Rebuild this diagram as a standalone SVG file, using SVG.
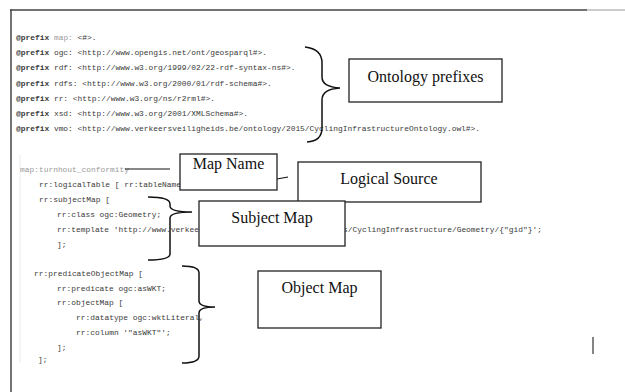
<svg xmlns="http://www.w3.org/2000/svg" width="625" height="392" viewBox="0 0 625 392">
<style>
.code{font-family:"Liberation Mono","DejaVu Sans Mono",monospace;font-size:7.9px;fill:#3a3a3a}
.kw{font-weight:bold}
.gray{fill:#9a9a9a}
.box{fill:#ffffff;stroke:#222;stroke-width:1.3}
.lbl{font-family:"Liberation Serif","Times New Roman",serif;font-size:16px;fill:#111;text-anchor:middle}
.brace{fill:none;stroke:#111;stroke-width:1.5}
.conn{fill:none;stroke:#111;stroke-width:1.2}
</style>
<rect x="0" y="0" width="625" height="392" fill="#ffffff"/>
<g id="frame">
<line x1="10" y1="10" x2="587" y2="10" stroke="#444" stroke-width="1.5"/>
<line x1="587" y1="10" x2="625" y2="10" stroke="#999" stroke-width="1.2"/>
<line x1="11" y1="9.5" x2="11" y2="392" stroke="#444" stroke-width="1.5"/>
<line x1="20" y1="155" x2="20" y2="363" stroke="#ececec" stroke-width="1"/>
</g>
<g id="code">
<text class="code" x="16" y="40"><tspan class="kw">@prefix</tspan> <tspan class="gray">map:</tspan> &lt;#&gt;.</text>
<text class="code" x="16" y="55.2"><tspan class="kw">@prefix</tspan> ogc: &lt;http://www.opengis.net/ont/geosparql#&gt;.</text>
<text class="code" x="16" y="70.4"><tspan class="kw">@prefix</tspan> rdf: &lt;http://www.w3.org/1999/02/22-rdf-syntax-ns#&gt;.</text>
<text class="code" x="16" y="85.6"><tspan class="kw">@prefix</tspan> rdfs: &lt;http://www.w3.org/2000/01/rdf-schema#&gt;.</text>
<text class="code" x="16" y="100.8"><tspan class="kw">@prefix</tspan> rr: &lt;http://www.w3.org/ns/r2rml#&gt;.</text>
<text class="code" x="16" y="116"><tspan class="kw">@prefix</tspan> xsd: &lt;http://www.w3.org/2001/XMLSchema#&gt;.</text>
<text class="code" x="16" y="131.2"><tspan class="kw">@prefix</tspan> vmo: &lt;http://www.verkeersveiligheids.be/ontology/2015/CyclingInfrastructureOntology.owl#&gt;.</text>
<text class="code gray" x="20" y="172">map:turnhout_conformity</text>
<text class="code" x="39" y="187">rr:logicalTable [ rr:tableName</text>
<text class="code" x="39" y="202">rr:subjectMap [</text>
<text class="code" x="57" y="217">rr:class ogc:Geometry;</text>
<text class="code" x="57" y="232">rr:template 'http://www.verkeer</text>
<text class="code" x="343" y="232">s/CyclingInfrastructure/Geometry/{"gid"}';</text>
<text class="code" x="57" y="247">];</text>
<text class="code" x="34" y="276">rr:predicateObjectMap [</text>
<text class="code" x="57" y="291">rr:predicate ogc:asWKT;</text>
<text class="code" x="57" y="305">rr:objectMap [</text>
<text class="code" x="76" y="320">rr:datatype ogc:wktLiteral,</text>
<text class="code" x="76" y="335">rr:column '"asWKT"';</text>
<text class="code" x="57" y="350">];</text>
<text class="code" x="38" y="362">];</text>
</g>
<g id="connectors">
<path class="brace" d="M305,47 Q322,49 322,63 L322,77 Q322,87 340,88 Q322,89 322,100 L322,128 Q322,141 307,142"/>
<path class="brace" d="M148,197 Q170,197 170,204 L170,206 Q170,212 192,212 Q170,212 170,218 L170,254 Q170,260 148,260"/>
<path class="brace" d="M182,266 Q199,266 199,273 L199,301 Q199,307 215,307 Q199,307 199,313 L199,356 Q199,363 182,363"/>
<line class="conn" x1="125" y1="169" x2="170" y2="169"/>
<line class="conn" x1="277" y1="179" x2="288" y2="177"/>
</g>
<g id="ontology-prefixes">
<rect class="box" x="349" y="59" width="153" height="43"/>
<text class="lbl" x="425.5" y="82">Ontology prefixes</text>
</g>
<g id="map-name">
<rect class="box" x="180" y="154" width="97" height="36"/>
<text class="lbl" x="228.5" y="169">Map Name</text>
</g>
<g id="logical-source">
<rect class="box" x="298" y="162" width="183" height="40"/>
<text class="lbl" x="389" y="184">Logical Source</text>
</g>
<g id="subject-map">
<rect class="box" x="199" y="201" width="146" height="45"/>
<text class="lbl" x="272" y="223">Subject Map</text>
</g>
<g id="object-map">
<rect class="box" x="258" y="271" width="123" height="57"/>
<text class="lbl" x="319.5" y="293">Object Map</text>
</g>
<line x1="593" y1="337" x2="593" y2="354" stroke="#333" stroke-width="1.2"/>
</svg>
